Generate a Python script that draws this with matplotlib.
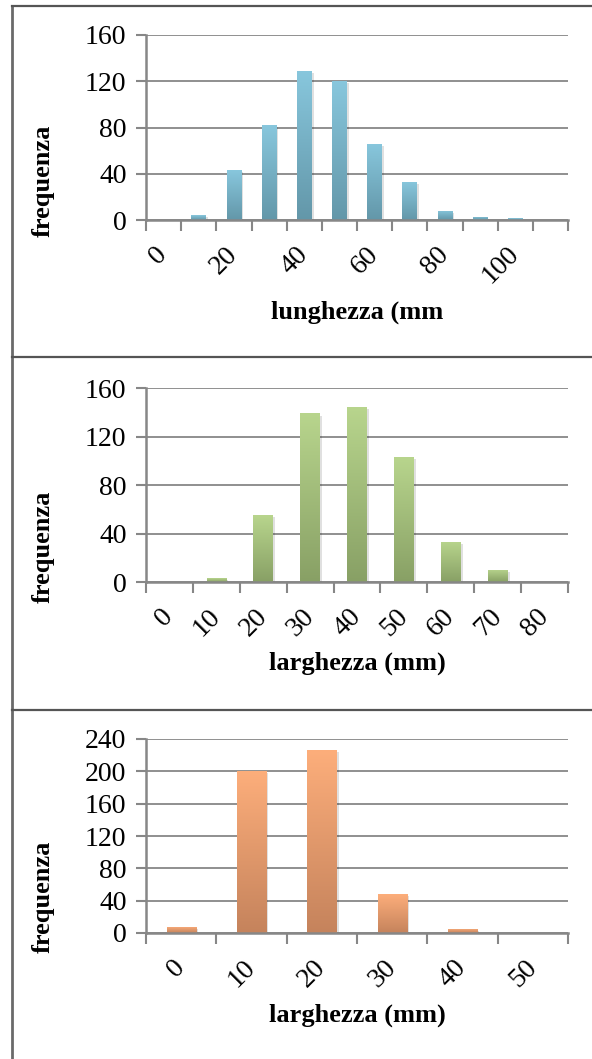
import numpy as np
import matplotlib
matplotlib.use("Agg")
import matplotlib.pyplot as plt
from matplotlib.colors import LinearSegmentedColormap
from matplotlib.lines import Line2D
import matplotlib.patheffects as pe

plt.rcParams['font.family'] = ['Liberation Serif', 'DejaVu Serif']

# ---------------- data ----------------
lung_cats = [0, 10, 20, 30, 40, 50, 60, 70, 80, 90, 100, 110]
lung_vals = [0, 4, 43, 82, 129, 120, 66, 33, 8, 3, 1.5, 0]

larg1_cats = [0, 10, 20, 30, 40, 50, 60, 70, 80]
larg1_vals = [0, 3, 55, 139, 144, 103, 33, 10, 0]

larg2_cats = [0, 10, 20, 30, 40, 50]
larg2_vals = [8, 200, 226, 48, 5, 0]

y1_ticks = [0, 40, 80, 120, 160]
y2_ticks = [0, 40, 80, 120, 160]
y3_ticks = [0, 40, 80, 120, 160, 200, 240]

W, H = 592, 1059
fig = plt.figure(figsize=(W / 100, H / 100), dpi=100)

GRID = '#878787'
TICKFS = 20
LABFS = 19


def px_axes(left, top, right, bottom):
    return fig.add_axes([left / W, 1 - bottom / H, (right - left) / W, (bottom - top) / H])


def panel(ax, cats, vals, yticks, ctop, cbot, xlabel, label_every, xlab_off, ylab_y):
    n = len(cats)
    x = np.arange(n)
    bars = ax.bar(x, vals, width=0.417, color=cbot, zorder=3,
                  path_effects=[pe.SimplePatchShadow(offset=(1.5, -1.5), shadow_rgbFace='#000000', alpha=0.12),
                                pe.Normal()])
    cmap = LinearSegmentedColormap.from_list('g', [cbot, ctop])
    grad = np.linspace(0, 1, 256).reshape(-1, 1)
    for b in bars:
        if b.get_height() <= 0:
            continue
        x0, y0 = b.get_x(), b.get_y()
        im = ax.imshow(grad, cmap=cmap, origin='lower', aspect='auto',
                       extent=(x0, x0 + b.get_width(), y0, y0 + b.get_height()), zorder=4)
        im.set_clip_path(b)
    ax.set_xlim(-0.5, n - 0.5)
    ax.set_ylim(0, yticks[-1])
    ax.set_yticks(yticks)
    ax.set_yticklabels([str(t) for t in yticks], fontsize=TICKFS)
    ax.set_xticks(np.arange(n + 1) - 0.5)
    ax.set_xticklabels([])
    labs = [str(c) if i % label_every == 0 else '' for i, c in enumerate(cats)]
    ax.set_xticks(x, labs, minor=True, rotation=45, ha='right', va='center',
                  rotation_mode='anchor', fontsize=TICKFS)
    ax.tick_params(axis='x', which='minor', length=0, pad=22)
    ax.tick_params(axis='x', which='major', length=8, width=1.5, color=GRID, direction='out')
    ax.tick_params(axis='y', length=7, width=1.5, color=GRID, pad=7)
    ax.grid(axis='y', color=GRID, linewidth=1.3, zorder=1)
    ax.set_axisbelow(True)
    for s in ['top', 'right']:
        ax.spines[s].set_visible(False)
    for s in ['left', 'bottom']:
        ax.spines[s].set_color(GRID)
        ax.spines[s].set_linewidth(1.8)
        ax.spines[s].set_zorder(5)
    ax.set_xlabel(xlabel, fontsize=LABFS, fontweight='bold', va='center')
    ax.xaxis.set_label_coords(0.5, xlab_off)
    ax.set_ylabel('frequenza', fontsize=LABFS, fontweight='bold', va='center')
    ax.yaxis.set_label_coords(-0.244, ylab_y)


ax1 = px_axes(146, 35, 568, 220)
panel(ax1, lung_cats, lung_vals, y1_ticks, '#88C7DD', '#6397A9', 'lunghezza (mm', 2,
      -92 / 185, 1 - (181 - 35) / 185)

ax2 = px_axes(146, 388, 568, 582)
panel(ax2, larg1_cats, larg1_vals, y2_ticks, '#B8D58D', '#88A065', 'larghezza (mm)', 1,
      -81 / 194, 1 - (547 - 388) / 194)

ax3 = px_axes(146, 739, 568, 933)
panel(ax3, larg2_cats, larg2_vals, y3_ticks, '#FDAE7B', '#C5835C', 'larghezza (mm)', 1,
      -82 / 194, 1 - (897 - 739) / 194)

# panel borders
BORDER = '#555555'
def hline(y):
    fig.add_artist(Line2D([11.5 / W, 1], [1 - y / H, 1 - y / H], color=BORDER, lw=1.6))
fig.add_artist(Line2D([11.5 / W, 11.5 / W], [0, 1 - 6 / H], color='#6a6a6a', lw=2.0))
hline(6)
hline(357.5)
hline(710)

fig.savefig('out.png', dpi=100)
